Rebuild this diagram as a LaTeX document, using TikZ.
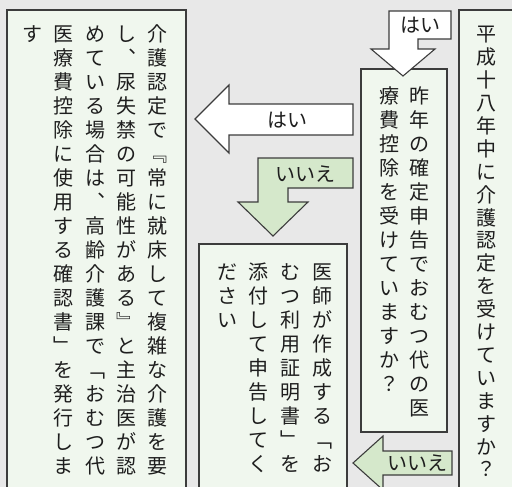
\documentclass[tikz,border=0pt]{standalone}
\usepackage{fontspec}
\newfontfamily\jp{Noto Sans CJK JP}
\usepackage{tikz}

\definecolor{bggray}{HTML}{E8E8E8}
\definecolor{boxgreen}{HTML}{F0F7EE}
\definecolor{arrowgreen}{HTML}{D5E8CB}
\definecolor{edgegray}{HTML}{3C3C3C}
\definecolor{textdark}{HTML}{1E1E1E}

% vertical text: one character per line
\makeatletter
\def\tate@go{\@tfor\tate@ch:=}
\newcommand\tate[2][24pt]{\edef\tate@list{#2}%
\vbox{\baselineskip=#1\lineskiplimit=-100pt\lineskip=0pt
\expandafter\tate@go\tate@list\do{\hbox to 24pt{\hss\vrule width0pt height0.88em depth0.12em\tate@ch\hss}}}}
\makeatother

\tikzset{
 qbox/.style={draw=edgegray, fill=boxgreen, line width=1.1pt},
 yesarrow/.style={draw=edgegray, fill=white, line width=1.1pt},
 noarrow/.style={draw=edgegray, fill=arrowgreen, line width=1.1pt},
 col/.style={inner sep=0pt, anchor=north, text=textdark, font=\jp\fontsize{20}{24}\selectfont},
 lab/.style={inner sep=0pt, text=textdark, font=\jp\fontsize{20}{24}\selectfont}
}

\begin{document}
\begin{tikzpicture}[x=1pt, y=-1pt]
\useasboundingbox (0,0) rectangle (512,487);
\clip (0,0) rectangle (512,487);
\fill[bggray] (0,0) rectangle (512,487);
% boxes
\draw[qbox] (7,10) rectangle (186,500);
\draw[qbox] (459,10) rectangle (520,500);
\draw[qbox] (361,69) rectangle (447,432);
\draw[qbox] (199,244) rectangle (347,500);
% arrows
\draw[yesarrow] (389,11)--(451,11)--(451,39)--(418,39)--(418,49)--(435,49)--(403,76)--(371,49)--(389,49)--cycle;
\draw[yesarrow] (195,119)--(229,85)--(229,104)--(353,104)--(353,135)--(229,135)--(229,153)--cycle;
\draw[noarrow] (258,158)--(353,158)--(353,188)--(288,188)--(288,202)--(308,202)--(273,236)--(238,202)--(258,202)--cycle;
\draw[noarrow] (353,463)--(383,436)--(383,451)--(452,451)--(452,475)--(383,475)--(383,490)--cycle;
\path
(420,25) node[lab] (yes1) {はい};
\path
(287,120) node[lab] (yes2) {はい};
\path
(305,174) node[lab] (no1) {いいえ};
\path
(417,463) node[lab] (no2) {いいえ};
% question 1
\path
(486,24) node[col] (q1) {\tate[22.9pt]{平成十八年中に介護認定を受けていますか？}};
% question 2
\foreach \x/\t [count=\i] in {419/昨年の確定申告でおむつ代の医, 389/療費控除を受けていますか？}
 \path (\x,86) node[col] (q2c\i) {\tate{\t}};
% answer: certificate
\foreach \x/\t [count=\i] in {157/介護認定で﹃常に就床して複雑な介護を要, 126/し︑尿失禁の可能性がある﹄と主治医が認,
 95/めている場合は︑高齢介護課で﹁おむつ代, 63/医療費控除に使用する確認書﹂を発行しま, 32/す}
 \path (\x,24) node[col] (a1c\i) {\tate{\t}};
% answer: doctor
\foreach \x/\t [count=\i] in {322/医師が作成する﹁お, 290/むつ利用証明書﹂を, 258/添付して申告してく, 227/ださい}
 \path (\x,262) node[col] (a2c\i) {\tate{\t}};
\end{tikzpicture}
\end{document}
